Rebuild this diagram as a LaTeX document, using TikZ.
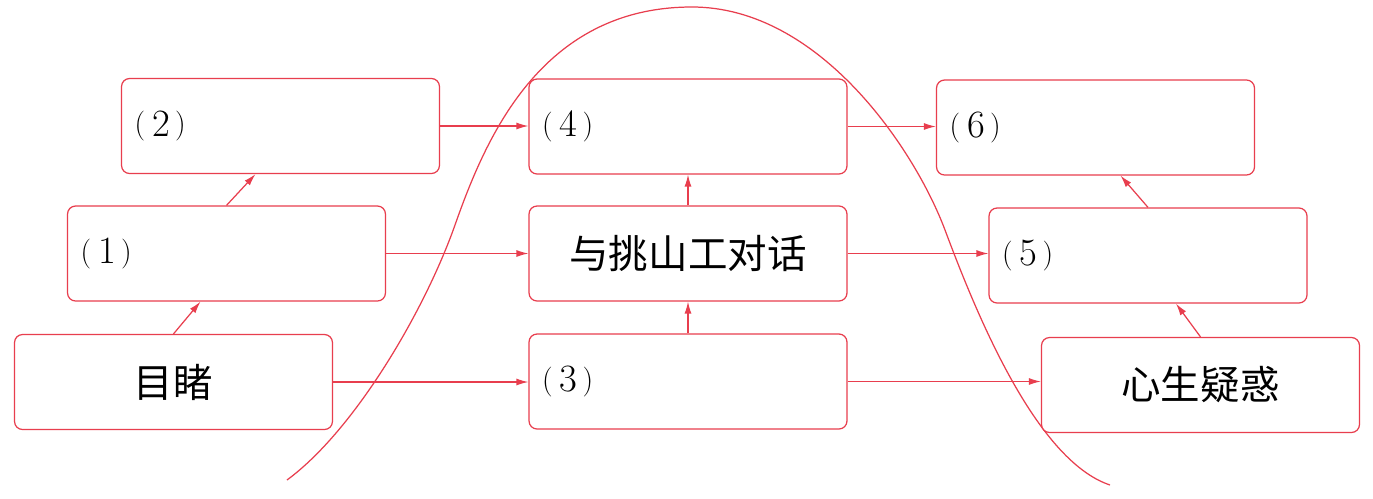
\documentclass[tikz,border=0pt]{standalone}
\usepackage{fontspec}
\newfontfamily\cjk{Noto Sans CJK SC}
\usetikzlibrary{arrows.meta,calc}
\definecolor{lred}{RGB}{232,62,78}
\newcommand{\lbl}[1]{\raisebox{1.3pt}{\fontsize{17}{17}\selectfont(}\hspace{0.18em}#1\hspace{0.14em}\raisebox{1.3pt}{\fontsize{17}{17}\selectfont)}}
\tikzset{
  box/.style={draw=lred, line width=0.7pt, rounded corners=0.16cm, fill=white,
    minimum width=6.36cm, minimum height=1.9cm, inner xsep=0.26cm, inner ysep=0pt,
    text width=5.84cm},
  lbox/.style={box, align=left, font=\fontsize{22}{24}\selectfont},
  cbox/.style={box, align=center, font=\cjk\fontsize{22.5}{26}\selectfont},
  arr/.style={draw=lred, line width=0.7pt, -{Latex[length=0.24cm,width=0.14cm]}},
  hill/.style={draw=lred, line width=0.7pt}
}
\begin{document}
\begin{tikzpicture}[x=0.02cm,y=-0.02cm]
\useasboundingbox (0,0) rectangle (1373,498);
\fill[white] (0,0) rectangle (1373,498);
\coordinate (h0) at (287,480);
\coordinate (h1) at (455,225);
\coordinate (h2) at (692,7);
\coordinate (h3) at (945,230);
\coordinate (h4) at (1110,485);
\draw[hill] (h0) .. controls (355,430) and (425,310) .. (h1)
  .. controls (485,140) and (540,7) .. (h2)
  .. controls (820,7) and (915,150) .. (h3)
  .. controls (975,310) and (1035,460) .. (h4);
\node[cbox] (mudu) at (173.5,382) {目睹};
\node[lbox] (n1) at (226.5,253.5) {\lbl{1}};
\node[lbox] (n2) at (280.5,126) {\lbl{2}};
\node[lbox] (n3) at (688,381.5) {\lbl{3}};
\node[cbox] (dh) at (688,253.5) {与挑山工对话};
\node[lbox] (n4) at (688,126.5) {\lbl{4}};
\node[lbox] (n6) at (1095.5,127.5) {\lbl{6}};
\node[lbox] (n5) at (1148,255.5) {\lbl{5}};
\node[cbox] (xs) at (1200.5,385) {心生疑惑};
\draw[arr] (mudu.north) -- ([xshift=-0.52cm]n1.south);
\draw[arr] (n1.north) -- ([xshift=-0.5cm]n2.south);
\draw[arr] (n2.east) -- (n2.east -| n4.west);
\draw[arr] (n1.east) -- (n1.east -| dh.west);
\draw[arr] (mudu.east) -- (mudu.east -| n3.west);
\draw[arr] (n3.north) -- (dh.south);
\draw[arr] (dh.north) -- (n4.south);
\draw[arr] (n4.east) -- (n4.east -| n6.west);
\draw[arr] (dh.east) -- (dh.east -| n5.west);
\draw[arr] (n3.east) -- (n3.east -| xs.west);
\draw[arr] (xs.north) -- ([xshift=0.56cm]n5.south);
\draw[arr] (n5.north) -- ([xshift=0.5cm]n6.south);
\end{tikzpicture}
\end{document}
